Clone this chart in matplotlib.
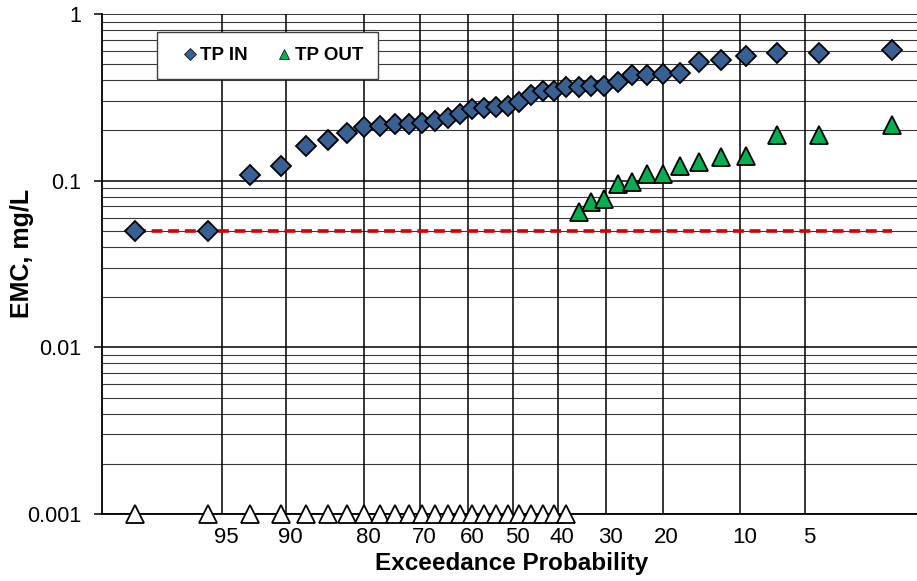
import matplotlib
matplotlib.use('Agg')
import matplotlib.pyplot as plt
from matplotlib.transforms import ScaledTranslation
from statistics import NormalDist

plt.rcParams['font.family'] = ['Liberation Sans', 'DejaVu Sans']

# exceedance probability (%) of each ranked sample (lowest EMC first)
exceed = [98.37, 95.75, 93.14, 90.52, 87.91, 85.29, 82.68, 80.07, 77.45, 74.84,
          72.22, 69.61, 66.99, 64.38, 61.76, 59.15, 56.54, 53.92, 51.31, 48.69,
          46.08, 43.46, 40.85, 38.24, 35.62, 33.01, 30.39, 27.78, 25.16, 22.55,
          19.93, 17.32, 14.71, 12.09, 9.48, 6.86, 4.25, 1.63]

tp_in = [0.050, 0.050, 0.108, 0.122, 0.161, 0.175, 0.193, 0.210, 0.213, 0.219,
         0.219, 0.222, 0.228, 0.238, 0.251, 0.269, 0.273, 0.277, 0.281, 0.297,
         0.327, 0.345, 0.345, 0.365, 0.365, 0.370, 0.370, 0.391, 0.428, 0.430,
         0.437, 0.443, 0.515, 0.530, 0.560, 0.583, 0.583, 0.608]

# TP OUT: first 24 are non-detects drawn at 0.001
tp_out = [0.001, 0.001, 0.001, 0.001, 0.001, 0.001, 0.001, 0.001, 0.001, 0.001,
          0.001, 0.001, 0.001, 0.001, 0.001, 0.001, 0.001, 0.001, 0.001, 0.001,
          0.001, 0.001, 0.001, 0.001,
          0.065, 0.074, 0.078, 0.096, 0.098, 0.110, 0.110, 0.123, 0.129, 0.139,
          0.141, 0.187, 0.187, 0.216]
n_nd = 24

threshold = 0.05

prob_ticks = [95, 90, 80, 70, 60, 50, 40, 30, 20, 10, 5]
y_ticks = [0.001, 0.01, 0.1, 1]
y_labels = ['0.001', '0.01', '0.1', '1']

nd = NormalDist()
x = [nd.inv_cdf(1 - p / 100.0) for p in exceed]
xt = [nd.inv_cdf(1 - p / 100.0) for p in prob_ticks]

fig = plt.figure(figsize=(9.17, 5.81), dpi=100, facecolor='white')
ax = fig.add_axes([0.1112, 0.1153, 0.8888, 0.8606])

ax.set_yscale('log')
ax.set_ylim(0.001, 1)
ax.set_xlim(-2.322, 2.278)

# grid
for yv in y_ticks:
    ax.axhline(yv, color='black', lw=1.1, zorder=1)
for dec in [0.001, 0.01, 0.1]:
    for k in range(2, 10):
        ax.axhline(dec * k, color='#3a3a3a', lw=0.8, zorder=1)
for xv in xt:
    ax.axvline(xv, color='black', lw=1.1, zorder=1)

ax.plot(x, [threshold] * len(x), color='#d00000', lw=2.6,
        linestyle=(0, (3.0, 1.6)), zorder=2)

ax.plot(x, tp_in, linestyle='none', marker='D', ms=10.5, mfc='#386092',
        mec='black', mew=1.3, zorder=3, label='TP IN')
ax.plot(x[n_nd:], tp_out[n_nd:], linestyle='none', marker='^', ms=12.8,
        mfc='#00b050', mec='black', mew=1.3, zorder=3, label='TP OUT')
ax.plot(x[:n_nd], tp_out[:n_nd], linestyle='none', marker='^', ms=12.8,
        mfc='white', mec='black', mew=1.3, zorder=4, clip_on=False)

for s in ['top', 'right']:
    ax.spines[s].set_visible(False)
for s in ['left', 'bottom']:
    ax.spines[s].set_linewidth(1.3)
    ax.spines[s].set_zorder(2)

ax.set_yticks(y_ticks)
ax.set_yticklabels(y_labels)
ax.yaxis.set_minor_locator(matplotlib.ticker.NullLocator())
ax.tick_params(axis='y', length=6, width=1.1, pad=9, labelsize=15.5)

ax.set_xticks(xt)
ax.set_xticklabels([str(p) for p in prob_ticks])
ax.tick_params(axis='x', length=0, pad=9, labelsize=16)
off = ScaledTranslation(4 / 100, 0, fig.dpi_scale_trans)
for lab in ax.get_xticklabels():
    lab.set_transform(lab.get_transform() + off)

ax.set_xlabel('Exceedance Probability', fontsize=17.5, fontweight='bold')
ax.xaxis.set_label_coords(0.5025, -0.075)
ax.set_ylabel('EMC, mg/L', fontsize=18, fontweight='bold')
ax.yaxis.set_label_coords(-0.084, 0.522)

leg = ax.legend(loc='upper left', bbox_to_anchor=(0.0675, 0.964), ncol=2,
                prop={'weight': 'bold', 'size': 13.5}, markerscale=0.6,
                frameon=True, fancybox=False, framealpha=1,
                edgecolor='#404040', borderpad=0.8, handletextpad=-0.4,
                columnspacing=1.0, handlelength=1.9, borderaxespad=0)
leg.get_frame().set_linewidth(1.0)
for h in leg.legend_handles:
    h.set_markeredgewidth(0.5)

fig.savefig('out.png', dpi=100, facecolor='white')
